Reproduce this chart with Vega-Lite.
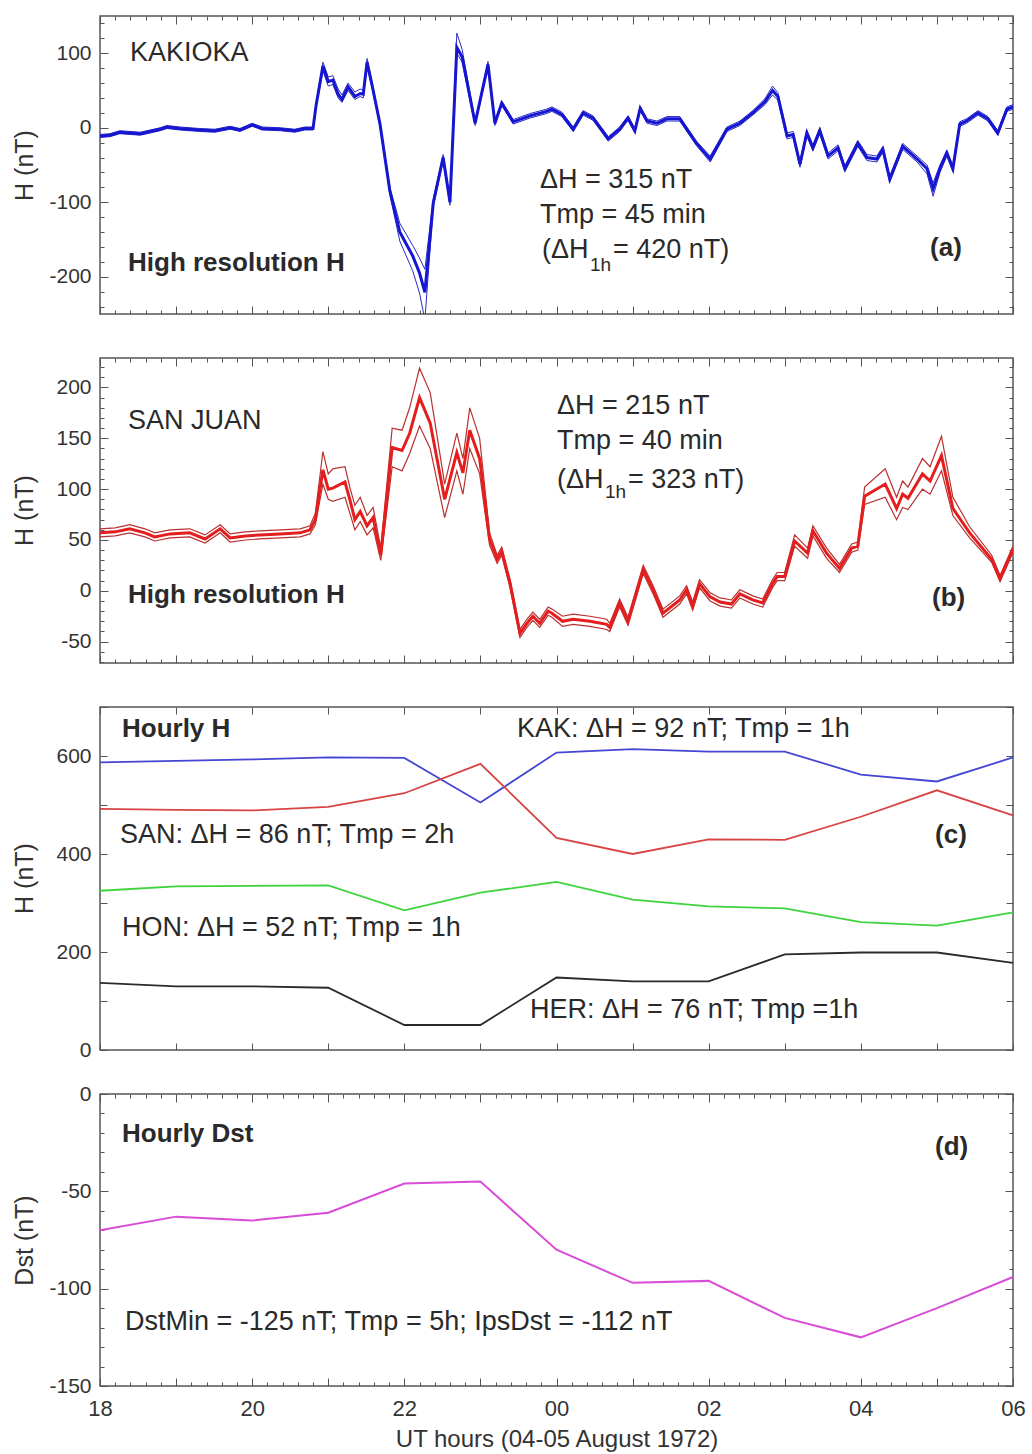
{
  "$schema": "https://vega.github.io/schema/vega-lite/v6.json",
  "padding": {"left": 11, "top": 11, "right": 12, "bottom": 0},
  "background": "white",
  "config": {
    "font": "Liberation Sans",
    "view": {"stroke": "#555", "strokeWidth": 1.5},
    "axis": {"domain": false, "grid": false, "labelColor": "#333", "labelFontSize": 21, "titleFontSize": 25, "titleFontWeight": "normal", "titleColor": "#333", "tickColor": "#555", "tickWidth": 1, "labelOverlap": false, "labelFlush": false, "labelBound": false},
    "text": {"font": "Liberation Sans", "color": "#2a2a2a"}
  },
  "datasets": {
    "kak": [
      {"t": 18.00, "v": -11, "lo": -13, "hi": -9},
      {"t": 18.13, "v": -10, "lo": -12, "hi": -8},
      {"t": 18.26, "v": -6, "lo": -8, "hi": -4},
      {"t": 18.53, "v": -8, "lo": -10, "hi": -6},
      {"t": 18.79, "v": -2, "lo": -4, "hi": 0},
      {"t": 18.88, "v": 1, "lo": -1, "hi": 3},
      {"t": 19.05, "v": -1, "lo": -3, "hi": 1},
      {"t": 19.31, "v": -3, "lo": -5, "hi": -1},
      {"t": 19.51, "v": -4, "lo": -6, "hi": -2},
      {"t": 19.71, "v": 0, "lo": -2, "hi": 2},
      {"t": 19.84, "v": -3, "lo": -5, "hi": -1},
      {"t": 20.00, "v": 4, "lo": 2, "hi": 6},
      {"t": 20.13, "v": -1, "lo": -3, "hi": 1},
      {"t": 20.37, "v": -2, "lo": -4, "hi": 0},
      {"t": 20.56, "v": -4, "lo": -6, "hi": -2},
      {"t": 20.69, "v": -1, "lo": -3, "hi": 1},
      {"t": 20.80, "v": -1, "lo": -3, "hi": 1},
      {"t": 20.84, "v": 30, "lo": 27, "hi": 33},
      {"t": 20.93, "v": 83, "lo": 76, "hi": 88},
      {"t": 21.00, "v": 62, "lo": 56, "hi": 68},
      {"t": 21.06, "v": 64, "lo": 58, "hi": 70},
      {"t": 21.13, "v": 45, "lo": 40, "hi": 52},
      {"t": 21.18, "v": 38, "lo": 34, "hi": 44},
      {"t": 21.26, "v": 55, "lo": 50, "hi": 60},
      {"t": 21.35, "v": 42, "lo": 38, "hi": 48},
      {"t": 21.42, "v": 46, "lo": 42, "hi": 52},
      {"t": 21.46, "v": 45, "lo": 40, "hi": 50},
      {"t": 21.51, "v": 88, "lo": 82, "hi": 93},
      {"t": 21.57, "v": 60, "lo": 56, "hi": 64},
      {"t": 21.68, "v": 5, "lo": 2, "hi": 8},
      {"t": 21.81, "v": -85, "lo": -90, "hi": -80},
      {"t": 21.94, "v": -140, "lo": -152, "hi": -128},
      {"t": 22.11, "v": -172, "lo": -192, "hi": -158},
      {"t": 22.20, "v": -195, "lo": -222, "hi": -175},
      {"t": 22.27, "v": -221, "lo": -258, "hi": -190},
      {"t": 22.38, "v": -101, "lo": -106, "hi": -96},
      {"t": 22.51, "v": -40, "lo": -44, "hi": -36},
      {"t": 22.60, "v": -100, "lo": -104, "hi": -96},
      {"t": 22.69, "v": 108, "lo": 100, "hi": 127},
      {"t": 22.76, "v": 95, "lo": 88, "hi": 105},
      {"t": 22.93, "v": 6, "lo": 3, "hi": 9},
      {"t": 23.10, "v": 85, "lo": 81, "hi": 89},
      {"t": 23.19, "v": 6, "lo": 3, "hi": 9},
      {"t": 23.28, "v": 33, "lo": 30, "hi": 36},
      {"t": 23.43, "v": 8, "lo": 5, "hi": 11},
      {"t": 23.65, "v": 16, "lo": 13, "hi": 19},
      {"t": 23.87, "v": 22, "lo": 19, "hi": 25},
      {"t": 23.94, "v": 25, "lo": 22, "hi": 28},
      {"t": 24.07, "v": 18, "lo": 15, "hi": 21},
      {"t": 24.22, "v": -2, "lo": -5, "hi": 1},
      {"t": 24.35, "v": 20, "lo": 17, "hi": 23},
      {"t": 24.48, "v": 13, "lo": 10, "hi": 16},
      {"t": 24.68, "v": -15, "lo": -18, "hi": -12},
      {"t": 24.83, "v": -2, "lo": -5, "hi": 1},
      {"t": 24.94, "v": 13, "lo": 10, "hi": 16},
      {"t": 25.03, "v": -4, "lo": -7, "hi": -1},
      {"t": 25.10, "v": 26, "lo": 23, "hi": 29},
      {"t": 25.19, "v": 9, "lo": 6, "hi": 12},
      {"t": 25.32, "v": 6, "lo": 3, "hi": 9},
      {"t": 25.45, "v": 12, "lo": 9, "hi": 15},
      {"t": 25.62, "v": 12, "lo": 9, "hi": 15},
      {"t": 25.84, "v": -21, "lo": -24, "hi": -18},
      {"t": 26.02, "v": -42, "lo": -46, "hi": -38},
      {"t": 26.24, "v": -2, "lo": -5, "hi": 1},
      {"t": 26.41, "v": 6, "lo": 3, "hi": 9},
      {"t": 26.58, "v": 20, "lo": 17, "hi": 23},
      {"t": 26.74, "v": 35, "lo": 31, "hi": 39},
      {"t": 26.84, "v": 50, "lo": 44, "hi": 56},
      {"t": 26.91, "v": 42, "lo": 37, "hi": 47},
      {"t": 27.03, "v": -11, "lo": -15, "hi": -7},
      {"t": 27.11, "v": -9, "lo": -13, "hi": -5},
      {"t": 27.20, "v": -49, "lo": -53, "hi": -45},
      {"t": 27.29, "v": -7, "lo": -11, "hi": -3},
      {"t": 27.37, "v": -27, "lo": -31, "hi": -23},
      {"t": 27.46, "v": -4, "lo": -8, "hi": 0},
      {"t": 27.57, "v": -38, "lo": -42, "hi": -34},
      {"t": 27.70, "v": -27, "lo": -31, "hi": -23},
      {"t": 27.79, "v": -55, "lo": -59, "hi": -51},
      {"t": 27.96, "v": -21, "lo": -25, "hi": -17},
      {"t": 28.08, "v": -40, "lo": -44, "hi": -36},
      {"t": 28.21, "v": -42, "lo": -46, "hi": -38},
      {"t": 28.29, "v": -29, "lo": -33, "hi": -25},
      {"t": 28.38, "v": -69, "lo": -73, "hi": -65},
      {"t": 28.55, "v": -25, "lo": -29, "hi": -21},
      {"t": 28.74, "v": -42, "lo": -46, "hi": -38},
      {"t": 28.87, "v": -55, "lo": -62, "hi": -50},
      {"t": 28.95, "v": -82, "lo": -92, "hi": -74},
      {"t": 29.04, "v": -55, "lo": -60, "hi": -50},
      {"t": 29.13, "v": -34, "lo": -38, "hi": -30},
      {"t": 29.21, "v": -55, "lo": -59, "hi": -51},
      {"t": 29.30, "v": 5, "lo": 2, "hi": 8},
      {"t": 29.39, "v": 9, "lo": 6, "hi": 12},
      {"t": 29.54, "v": 20, "lo": 17, "hi": 23},
      {"t": 29.67, "v": 12, "lo": 9, "hi": 15},
      {"t": 29.80, "v": -7, "lo": -10, "hi": -4},
      {"t": 29.92, "v": 25, "lo": 22, "hi": 28},
      {"t": 30.00, "v": 28, "lo": 25, "hi": 31}
    ],
    "san": [
      {"t": 18.00, "v": 57, "lo": 53, "hi": 61},
      {"t": 18.20, "v": 58, "lo": 54, "hi": 62},
      {"t": 18.39, "v": 61, "lo": 57, "hi": 65},
      {"t": 18.59, "v": 57, "lo": 53, "hi": 61},
      {"t": 18.72, "v": 53, "lo": 49, "hi": 57},
      {"t": 18.92, "v": 56, "lo": 52, "hi": 60},
      {"t": 19.18, "v": 57, "lo": 53, "hi": 61},
      {"t": 19.38, "v": 51, "lo": 47, "hi": 55},
      {"t": 19.58, "v": 61, "lo": 57, "hi": 65},
      {"t": 19.71, "v": 52, "lo": 48, "hi": 56},
      {"t": 19.91, "v": 54, "lo": 50, "hi": 58},
      {"t": 20.10, "v": 55, "lo": 51, "hi": 59},
      {"t": 20.37, "v": 56, "lo": 52, "hi": 60},
      {"t": 20.63, "v": 57, "lo": 53, "hi": 61},
      {"t": 20.76, "v": 60, "lo": 56, "hi": 64},
      {"t": 20.83, "v": 70, "lo": 65, "hi": 76},
      {"t": 20.93, "v": 119, "lo": 105, "hi": 137},
      {"t": 21.00, "v": 100, "lo": 90, "hi": 115},
      {"t": 21.06, "v": 101, "lo": 88, "hi": 120},
      {"t": 21.22, "v": 107, "lo": 92, "hi": 122},
      {"t": 21.29, "v": 88, "lo": 75, "hi": 100},
      {"t": 21.35, "v": 70, "lo": 60, "hi": 84},
      {"t": 21.42, "v": 78, "lo": 68, "hi": 92},
      {"t": 21.51, "v": 64, "lo": 55, "hi": 74},
      {"t": 21.59, "v": 72, "lo": 62, "hi": 82},
      {"t": 21.69, "v": 35, "lo": 30, "hi": 42},
      {"t": 21.84, "v": 141, "lo": 122, "hi": 160},
      {"t": 21.97, "v": 138, "lo": 118, "hi": 158},
      {"t": 22.07, "v": 155, "lo": 135, "hi": 180},
      {"t": 22.20, "v": 190, "lo": 162, "hi": 219},
      {"t": 22.34, "v": 165, "lo": 140, "hi": 195},
      {"t": 22.53, "v": 90, "lo": 72, "hi": 105},
      {"t": 22.69, "v": 136, "lo": 118, "hi": 155},
      {"t": 22.77, "v": 116, "lo": 95, "hi": 130},
      {"t": 22.86, "v": 158, "lo": 140, "hi": 180},
      {"t": 22.99, "v": 130, "lo": 115, "hi": 150},
      {"t": 23.12, "v": 51, "lo": 45, "hi": 57},
      {"t": 23.22, "v": 31, "lo": 27, "hi": 35},
      {"t": 23.28, "v": 39, "lo": 35, "hi": 43},
      {"t": 23.39, "v": 7, "lo": 3, "hi": 11},
      {"t": 23.52, "v": -42, "lo": -46, "hi": -38},
      {"t": 23.61, "v": -32, "lo": -36, "hi": -28},
      {"t": 23.69, "v": -25, "lo": -29, "hi": -21},
      {"t": 23.78, "v": -32, "lo": -36, "hi": -28},
      {"t": 23.89, "v": -20, "lo": -24, "hi": -16},
      {"t": 23.94, "v": -22, "lo": -26, "hi": -18},
      {"t": 24.08, "v": -30, "lo": -35, "hi": -25},
      {"t": 24.22, "v": -28, "lo": -33, "hi": -23},
      {"t": 24.44, "v": -30, "lo": -35, "hi": -25},
      {"t": 24.66, "v": -33, "lo": -38, "hi": -28},
      {"t": 24.70, "v": -36, "lo": -40, "hi": -32},
      {"t": 24.83, "v": -12, "lo": -16, "hi": -8},
      {"t": 24.94, "v": -30, "lo": -34, "hi": -26},
      {"t": 25.14, "v": 21, "lo": 17, "hi": 25},
      {"t": 25.27, "v": 1, "lo": -3, "hi": 5},
      {"t": 25.40, "v": -22, "lo": -26, "hi": -18},
      {"t": 25.62, "v": -9, "lo": -13, "hi": -5},
      {"t": 25.71, "v": 1, "lo": -3, "hi": 5},
      {"t": 25.79, "v": -15, "lo": -19, "hi": -11},
      {"t": 25.88, "v": 7, "lo": 3, "hi": 11},
      {"t": 26.02, "v": -6, "lo": -10, "hi": -2},
      {"t": 26.15, "v": -11, "lo": -15, "hi": -7},
      {"t": 26.30, "v": -13, "lo": -17, "hi": -9},
      {"t": 26.41, "v": -3, "lo": -7, "hi": 1},
      {"t": 26.58, "v": -9, "lo": -13, "hi": -5},
      {"t": 26.71, "v": -12, "lo": -16, "hi": -8},
      {"t": 26.84, "v": 7, "lo": 3, "hi": 11},
      {"t": 26.90, "v": 14, "lo": 10, "hi": 18},
      {"t": 27.00, "v": 14, "lo": 10, "hi": 18},
      {"t": 27.13, "v": 49, "lo": 44, "hi": 55},
      {"t": 27.30, "v": 37, "lo": 32, "hi": 42},
      {"t": 27.37, "v": 59, "lo": 54, "hi": 64},
      {"t": 27.55, "v": 37, "lo": 32, "hi": 42},
      {"t": 27.72, "v": 22, "lo": 18, "hi": 26},
      {"t": 27.88, "v": 42, "lo": 38, "hi": 46},
      {"t": 27.96, "v": 44, "lo": 40, "hi": 48},
      {"t": 28.05, "v": 93, "lo": 85, "hi": 102},
      {"t": 28.32, "v": 105, "lo": 92, "hi": 120},
      {"t": 28.47, "v": 81, "lo": 70, "hi": 92},
      {"t": 28.55, "v": 95, "lo": 82, "hi": 108},
      {"t": 28.62, "v": 91, "lo": 80, "hi": 102},
      {"t": 28.81, "v": 115, "lo": 100, "hi": 130},
      {"t": 28.91, "v": 108, "lo": 95, "hi": 122},
      {"t": 29.06, "v": 133, "lo": 118, "hi": 152},
      {"t": 29.21, "v": 81, "lo": 74, "hi": 92},
      {"t": 29.43, "v": 57, "lo": 52, "hi": 63},
      {"t": 29.72, "v": 31, "lo": 28, "hi": 35},
      {"t": 29.83, "v": 12, "lo": 9, "hi": 15},
      {"t": 30.00, "v": 41, "lo": 38, "hi": 44}
    ],
    "hourly": [
      {"t": 18, "s": "KAK", "v": 587}, {"t": 19, "s": "KAK", "v": 590}, {"t": 20, "s": "KAK", "v": 593}, {"t": 21, "s": "KAK", "v": 597}, {"t": 22, "s": "KAK", "v": 596}, {"t": 23, "s": "KAK", "v": 505}, {"t": 24, "s": "KAK", "v": 607}, {"t": 25, "s": "KAK", "v": 614}, {"t": 26, "s": "KAK", "v": 609}, {"t": 27, "s": "KAK", "v": 609}, {"t": 28, "s": "KAK", "v": 562}, {"t": 29, "s": "KAK", "v": 548}, {"t": 30, "s": "KAK", "v": 597},
      {"t": 18, "s": "SAN", "v": 492}, {"t": 19, "s": "SAN", "v": 490}, {"t": 20, "s": "SAN", "v": 489}, {"t": 21, "s": "SAN", "v": 496}, {"t": 22, "s": "SAN", "v": 524}, {"t": 23, "s": "SAN", "v": 584}, {"t": 24, "s": "SAN", "v": 433}, {"t": 25, "s": "SAN", "v": 400}, {"t": 26, "s": "SAN", "v": 430}, {"t": 27, "s": "SAN", "v": 429}, {"t": 28, "s": "SAN", "v": 476}, {"t": 29, "s": "SAN", "v": 530}, {"t": 30, "s": "SAN", "v": 479},
      {"t": 18, "s": "HON", "v": 325}, {"t": 19, "s": "HON", "v": 334}, {"t": 20, "s": "HON", "v": 335}, {"t": 21, "s": "HON", "v": 336}, {"t": 22, "s": "HON", "v": 285}, {"t": 23, "s": "HON", "v": 321}, {"t": 24, "s": "HON", "v": 343}, {"t": 25, "s": "HON", "v": 307}, {"t": 26, "s": "HON", "v": 293}, {"t": 27, "s": "HON", "v": 289}, {"t": 28, "s": "HON", "v": 261}, {"t": 29, "s": "HON", "v": 254}, {"t": 30, "s": "HON", "v": 281},
      {"t": 18, "s": "HER", "v": 137}, {"t": 19, "s": "HER", "v": 130}, {"t": 20, "s": "HER", "v": 130}, {"t": 21, "s": "HER", "v": 127}, {"t": 22, "s": "HER", "v": 51}, {"t": 23, "s": "HER", "v": 51}, {"t": 24, "s": "HER", "v": 148}, {"t": 25, "s": "HER", "v": 140}, {"t": 26, "s": "HER", "v": 140}, {"t": 27, "s": "HER", "v": 195}, {"t": 28, "s": "HER", "v": 199}, {"t": 29, "s": "HER", "v": 199}, {"t": 30, "s": "HER", "v": 178}
    ],
    "dst": [
      {"t": 18, "v": -70}, {"t": 19, "v": -63}, {"t": 20, "v": -65}, {"t": 21, "v": -61}, {"t": 22, "v": -46}, {"t": 23, "v": -45}, {"t": 24, "v": -80}, {"t": 25, "v": -97}, {"t": 26, "v": -96}, {"t": 27, "v": -115}, {"t": 28, "v": -125}, {"t": 29, "v": -110}, {"t": 30, "v": -94}
    ]
  },
  "vconcat": [
    {
      "width": 913,
      "height": 298,
      "layer": [
        {
          "data": {"name": "kak"},
          "mark": {"type": "line", "color": "#2a2ac8", "strokeWidth": 1, "clip": true},
          "encoding": {
            "x": {"field": "t", "type": "quantitative", "scale": {"domain": [18, 30], "nice": false, "zero": false},
              "axis": {"orient": "bottom", "values": [18,18.2,18.4,18.6,18.8,19,19.2,19.4,19.6,19.8,20,20.2,20.4,20.6,20.8,21,21.2,21.4,21.6,21.8,22,22.2,22.4,22.6,22.8,23,23.2,23.4,23.6,23.8,24,24.2,24.4,24.6,24.8,25,25.2,25.4,25.6,25.8,26,26.2,26.4,26.6,26.8,27,27.2,27.4,27.6,27.8,28,28.2,28.4,28.6,28.8,29,29.2,29.4,29.6,29.8,30], "labels": false, "title": null, "tickSize": {"condition": {"test": "datum.value % 1 === 0", "value": -8}, "value": -4}}},
            "y": {"field": "lo", "type": "quantitative", "scale": {"domain": [-250, 150], "nice": false, "zero": false},
              "axis": {"orient": "left", "values": [-240,-220,-200,-180,-160,-140,-120,-100,-80,-60,-40,-20,0,20,40,60,80,100,120,140], "title": "H (nT)", "titleX": -63, "titleY": 149, "labelPadding": 17, "labelExpr": "datum.value % 100 === 0 ? '' + datum.value : ''", "tickSize": {"condition": {"test": "datum.value % 100 === 0", "value": -8}, "value": -4}}}
          }
        },
        {
          "data": {"name": "kak"},
          "mark": {"type": "line", "color": "#2a2ac8", "strokeWidth": 1, "clip": true},
          "encoding": {
            "x": {"field": "t", "type": "quantitative",
              "axis": {"orient": "top", "values": [18,18.2,18.4,18.6,18.8,19,19.2,19.4,19.6,19.8,20,20.2,20.4,20.6,20.8,21,21.2,21.4,21.6,21.8,22,22.2,22.4,22.6,22.8,23,23.2,23.4,23.6,23.8,24,24.2,24.4,24.6,24.8,25,25.2,25.4,25.6,25.8,26,26.2,26.4,26.6,26.8,27,27.2,27.4,27.6,27.8,28,28.2,28.4,28.6,28.8,29,29.2,29.4,29.6,29.8,30], "labels": false, "title": null, "tickSize": {"condition": {"test": "datum.value % 1 === 0", "value": -8}, "value": -4}}},
            "y": {"field": "hi", "type": "quantitative",
              "axis": {"orient": "right", "values": [-240,-220,-200,-180,-160,-140,-120,-100,-80,-60,-40,-20,0,20,40,60,80,100,120,140], "labels": false, "title": null, "tickSize": {"condition": {"test": "datum.value % 100 === 0", "value": -8}, "value": -4}}}
          }
        },
        {
          "data": {"name": "kak"},
          "mark": {"type": "line", "color": "#1616d0", "strokeWidth": 3, "clip": true},
          "encoding": {
            "x": {"field": "t", "type": "quantitative", "axis": null},
            "y": {"field": "v", "type": "quantitative", "axis": null}
          }
        },
        {"data": {"values": [{}]}, "mark": {"type": "text", "text": "KAKIOKA", "align": "left", "baseline": "alphabetic", "fontSize": 27},
         "encoding": {"x": {"datum": 18.394, "type": "quantitative", "axis": null}, "y": {"datum": 89.3, "type": "quantitative", "axis": null}}},
        {"data": {"values": [{}]}, "mark": {"type": "text", "text": "High resolution H", "align": "left", "baseline": "alphabetic", "fontSize": 26, "fontWeight": "bold"},
         "encoding": {"x": {"datum": 18.368, "type": "quantitative", "axis": null}, "y": {"datum": -191.9, "type": "quantitative", "axis": null}}},
        {"data": {"values": [{}]}, "mark": {"type": "text", "text": "ΔH = 315 nT", "align": "left", "baseline": "alphabetic", "fontSize": 27},
         "encoding": {"x": {"datum": 23.783, "type": "quantitative", "axis": null}, "y": {"datum": -80.8, "type": "quantitative", "axis": null}}},
        {"data": {"values": [{}]}, "mark": {"type": "text", "text": "Tmp = 45 min", "align": "left", "baseline": "alphabetic", "fontSize": 27},
         "encoding": {"x": {"datum": 23.783, "type": "quantitative", "axis": null}, "y": {"datum": -127.9, "type": "quantitative", "axis": null}}},
        {"data": {"values": [{}]}, "mark": {"type": "text", "text": "(ΔH", "align": "left", "baseline": "alphabetic", "fontSize": 27},
         "encoding": {"x": {"datum": 23.81, "type": "quantitative", "axis": null}, "y": {"datum": -174.5, "type": "quantitative", "axis": null}}},
        {"data": {"values": [{}]}, "mark": {"type": "text", "text": "1h", "align": "left", "baseline": "alphabetic", "fontSize": 19},
         "encoding": {"x": {"datum": 24.441, "type": "quantitative", "axis": null}, "y": {"datum": -191.9, "type": "quantitative", "axis": null}}},
        {"data": {"values": [{}]}, "mark": {"type": "text", "text": "= 420 nT)", "align": "left", "baseline": "alphabetic", "fontSize": 27},
         "encoding": {"x": {"datum": 24.743, "type": "quantitative", "axis": null}, "y": {"datum": -174.5, "type": "quantitative", "axis": null}}},
        {"data": {"values": [{}]}, "mark": {"type": "text", "text": "(a)", "align": "left", "baseline": "alphabetic", "fontSize": 26, "fontWeight": "bold"},
         "encoding": {"x": {"datum": 28.91, "type": "quantitative", "axis": null}, "y": {"datum": -171.8, "type": "quantitative", "axis": null}}}
      ],
      "resolve": {"axis": {"x": "independent", "y": "independent"}}
    },
    {
      "width": 913,
      "height": 305,
      "layer": [
        {
          "data": {"name": "san"},
          "mark": {"type": "line", "color": "#b83030", "strokeWidth": 1.2, "clip": true},
          "encoding": {
            "x": {"field": "t", "type": "quantitative", "scale": {"domain": [18, 30], "nice": false, "zero": false},
              "axis": {"orient": "bottom", "values": [18,18.2,18.4,18.6,18.8,19,19.2,19.4,19.6,19.8,20,20.2,20.4,20.6,20.8,21,21.2,21.4,21.6,21.8,22,22.2,22.4,22.6,22.8,23,23.2,23.4,23.6,23.8,24,24.2,24.4,24.6,24.8,25,25.2,25.4,25.6,25.8,26,26.2,26.4,26.6,26.8,27,27.2,27.4,27.6,27.8,28,28.2,28.4,28.6,28.8,29,29.2,29.4,29.6,29.8,30], "labels": false, "title": null, "tickSize": {"condition": {"test": "datum.value % 1 === 0", "value": -8}, "value": -4}}},
            "y": {"field": "lo", "type": "quantitative", "scale": {"domain": [-71, 229], "nice": false, "zero": false},
              "axis": {"orient": "left", "values": [-70,-60,-50,-40,-30,-20,-10,0,10,20,30,40,50,60,70,80,90,100,110,120,130,140,150,160,170,180,190,200,210,220], "title": "H (nT)", "titleX": -63, "titleY": 152, "labelPadding": 17, "labelExpr": "datum.value % 50 === 0 ? '' + datum.value : ''", "tickSize": {"condition": {"test": "datum.value % 50 === 0", "value": -8}, "value": -4}}}
          }
        },
        {
          "data": {"name": "san"},
          "mark": {"type": "line", "color": "#b83030", "strokeWidth": 1.2, "clip": true},
          "encoding": {
            "x": {"field": "t", "type": "quantitative",
              "axis": {"orient": "top", "values": [18,18.2,18.4,18.6,18.8,19,19.2,19.4,19.6,19.8,20,20.2,20.4,20.6,20.8,21,21.2,21.4,21.6,21.8,22,22.2,22.4,22.6,22.8,23,23.2,23.4,23.6,23.8,24,24.2,24.4,24.6,24.8,25,25.2,25.4,25.6,25.8,26,26.2,26.4,26.6,26.8,27,27.2,27.4,27.6,27.8,28,28.2,28.4,28.6,28.8,29,29.2,29.4,29.6,29.8,30], "labels": false, "title": null, "tickSize": {"condition": {"test": "datum.value % 1 === 0", "value": -8}, "value": -4}}},
            "y": {"field": "hi", "type": "quantitative",
              "axis": {"orient": "right", "values": [-70,-60,-50,-40,-30,-20,-10,0,10,20,30,40,50,60,70,80,90,100,110,120,130,140,150,160,170,180,190,200,210,220], "labels": false, "title": null, "tickSize": {"condition": {"test": "datum.value % 50 === 0", "value": -8}, "value": -4}}}
          }
        },
        {
          "data": {"name": "san"},
          "mark": {"type": "line", "color": "#e41e1e", "strokeWidth": 3, "clip": true},
          "encoding": {
            "x": {"field": "t", "type": "quantitative", "axis": null},
            "y": {"field": "v", "type": "quantitative", "axis": null}
          }
        },
        {"data": {"values": [{}]}, "mark": {"type": "text", "text": "SAN JUAN", "align": "left", "baseline": "alphabetic", "fontSize": 27},
         "encoding": {"x": {"datum": 18.368, "type": "quantitative", "axis": null}, "y": {"datum": 159.2, "type": "quantitative", "axis": null}}},
        {"data": {"values": [{}]}, "mark": {"type": "text", "text": "High resolution H", "align": "left", "baseline": "alphabetic", "fontSize": 26, "fontWeight": "bold"},
         "encoding": {"x": {"datum": 18.368, "type": "quantitative", "axis": null}, "y": {"datum": -12.2, "type": "quantitative", "axis": null}}},
        {"data": {"values": [{}]}, "mark": {"type": "text", "text": "ΔH = 215 nT", "align": "left", "baseline": "alphabetic", "fontSize": 27},
         "encoding": {"x": {"datum": 24.007, "type": "quantitative", "axis": null}, "y": {"datum": 174, "type": "quantitative", "axis": null}}},
        {"data": {"values": [{}]}, "mark": {"type": "text", "text": "Tmp = 40 min", "align": "left", "baseline": "alphabetic", "fontSize": 27},
         "encoding": {"x": {"datum": 24.007, "type": "quantitative", "axis": null}, "y": {"datum": 139.4, "type": "quantitative", "axis": null}}},
        {"data": {"values": [{}]}, "mark": {"type": "text", "text": "(ΔH", "align": "left", "baseline": "alphabetic", "fontSize": 27},
         "encoding": {"x": {"datum": 24.007, "type": "quantitative", "axis": null}, "y": {"datum": 101.5, "type": "quantitative", "axis": null}}},
        {"data": {"values": [{}]}, "mark": {"type": "text", "text": "1h", "align": "left", "baseline": "alphabetic", "fontSize": 19},
         "encoding": {"x": {"datum": 24.638, "type": "quantitative", "axis": null}, "y": {"datum": 91.6, "type": "quantitative", "axis": null}}},
        {"data": {"values": [{}]}, "mark": {"type": "text", "text": "= 323 nT)", "align": "left", "baseline": "alphabetic", "fontSize": 27},
         "encoding": {"x": {"datum": 24.94, "type": "quantitative", "axis": null}, "y": {"datum": 101.5, "type": "quantitative", "axis": null}}},
        {"data": {"values": [{}]}, "mark": {"type": "text", "text": "(b)", "align": "left", "baseline": "alphabetic", "fontSize": 26, "fontWeight": "bold"},
         "encoding": {"x": {"datum": 28.936, "type": "quantitative", "axis": null}, "y": {"datum": -15.4, "type": "quantitative", "axis": null}}}
      ],
      "resolve": {"axis": {"x": "independent", "y": "independent"}}
    },
    {
      "width": 913,
      "height": 343,
      "layer": [
        {
          "data": {"name": "hourly"},
          "mark": {"type": "line", "strokeWidth": 1.8},
          "encoding": {
            "x": {"field": "t", "type": "quantitative", "scale": {"domain": [18, 30], "nice": false, "zero": false},
              "axis": {"orient": "bottom", "values": [18,19,20,21,22,23,24,25,26,27,28,29,30], "labels": false, "title": null, "tickSize": -7}},
            "y": {"field": "v", "type": "quantitative", "scale": {"domain": [0, 700], "nice": false, "zero": false},
              "axis": {"orient": "left", "values": [0,100,200,300,400,500,600,700], "title": "H (nT)", "titleX": -63, "titleY": 171, "labelPadding": 16, "labelExpr": "datum.value % 200 === 0 ? '' + datum.value : ''", "tickSize": -7}},
            "color": {"field": "s", "type": "nominal", "scale": {"domain": ["KAK", "SAN", "HON", "HER"], "range": ["#4646d4", "#d84444", "#3ed43e", "#2a2a2a"]}, "legend": null}
          }
        },
        {
          "data": {"name": "hourly"},
          "mark": {"type": "line", "opacity": 0},
          "encoding": {
            "x": {"field": "t", "type": "quantitative",
              "axis": {"orient": "top", "values": [18,19,20,21,22,23,24,25,26,27,28,29,30], "labels": false, "title": null, "tickSize": -7}},
            "y": {"field": "v", "type": "quantitative",
              "axis": {"orient": "right", "values": [0,100,200,300,400,500,600,700], "labels": false, "title": null, "tickSize": -7}},
            "detail": {"field": "s", "type": "nominal"}
          }
        },
        {"data": {"values": [{}]}, "mark": {"type": "text", "text": "Hourly H", "align": "left", "baseline": "alphabetic", "fontSize": 26, "fontWeight": "bold"},
         "encoding": {"x": {"datum": 18.289, "type": "quantitative", "axis": null}, "y": {"datum": 638, "type": "quantitative", "axis": null}}},
        {"data": {"values": [{}]}, "mark": {"type": "text", "text": "KAK: ΔH = 92 nT; Tmp = 1h", "align": "left", "baseline": "alphabetic", "fontSize": 27},
         "encoding": {"x": {"datum": 23.481, "type": "quantitative", "axis": null}, "y": {"datum": 638, "type": "quantitative", "axis": null}}},
        {"data": {"values": [{}]}, "mark": {"type": "text", "text": "SAN: ΔH = 86 nT; Tmp = 2h", "align": "left", "baseline": "alphabetic", "fontSize": 27},
         "encoding": {"x": {"datum": 18.263, "type": "quantitative", "axis": null}, "y": {"datum": 423, "type": "quantitative", "axis": null}}},
        {"data": {"values": [{}]}, "mark": {"type": "text", "text": "(c)", "align": "left", "baseline": "alphabetic", "fontSize": 26, "fontWeight": "bold"},
         "encoding": {"x": {"datum": 28.975, "type": "quantitative", "axis": null}, "y": {"datum": 423, "type": "quantitative", "axis": null}}},
        {"data": {"values": [{}]}, "mark": {"type": "text", "text": "HON: ΔH = 52 nT; Tmp = 1h", "align": "left", "baseline": "alphabetic", "fontSize": 27},
         "encoding": {"x": {"datum": 18.289, "type": "quantitative", "axis": null}, "y": {"datum": 232, "type": "quantitative", "axis": null}}},
        {"data": {"values": [{}]}, "mark": {"type": "text", "text": "HER: ΔH = 76 nT; Tmp =1h", "align": "left", "baseline": "alphabetic", "fontSize": 27},
         "encoding": {"x": {"datum": 23.652, "type": "quantitative", "axis": null}, "y": {"datum": 65, "type": "quantitative", "axis": null}}}
      ],
      "resolve": {"axis": {"x": "independent", "y": "independent"}}
    },
    {
      "width": 913,
      "height": 292,
      "layer": [
        {
          "data": {"name": "dst"},
          "mark": {"type": "line", "color": "#d84cd8", "strokeWidth": 2},
          "encoding": {
            "x": {"field": "t", "type": "quantitative", "scale": {"domain": [18, 30], "nice": false, "zero": false},
              "axis": {"orient": "bottom", "values": [18,18.2,18.4,18.6,18.8,19,19.2,19.4,19.6,19.8,20,20.2,20.4,20.6,20.8,21,21.2,21.4,21.6,21.8,22,22.2,22.4,22.6,22.8,23,23.2,23.4,23.6,23.8,24,24.2,24.4,24.6,24.8,25,25.2,25.4,25.6,25.8,26,26.2,26.4,26.6,26.8,27,27.2,27.4,27.6,27.8,28,28.2,28.4,28.6,28.8,29,29.2,29.4,29.6,29.8,30], "title": "UT hours (04-05 August 1972)", "titleFontSize": 24, "titlePadding": 4, "labelPadding": 20, "labelFontSize": 22, "labelExpr": "datum.value % 2 === 0 ? (datum.value >= 24 ? '0' + (datum.value - 24) : '' + datum.value) : ''", "tickSize": {"condition": {"test": "datum.value % 1 === 0", "value": -8}, "value": -4}}},
            "y": {"field": "v", "type": "quantitative", "scale": {"domain": [-150, 0], "nice": false, "zero": false},
              "axis": {"orient": "left", "values": [-150,-140,-130,-120,-110,-100,-90,-80,-70,-60,-50,-40,-30,-20,-10,0], "title": "Dst (nT)", "titleX": -63, "titleY": 146, "labelPadding": 17, "labelExpr": "datum.value % 50 === 0 ? '' + datum.value : ''", "tickSize": {"condition": {"test": "datum.value % 50 === 0", "value": -8}, "value": -4}}}
          }
        },
        {
          "data": {"name": "dst"},
          "mark": {"type": "line", "opacity": 0},
          "encoding": {
            "x": {"field": "t", "type": "quantitative",
              "axis": {"orient": "top", "values": [18,18.2,18.4,18.6,18.8,19,19.2,19.4,19.6,19.8,20,20.2,20.4,20.6,20.8,21,21.2,21.4,21.6,21.8,22,22.2,22.4,22.6,22.8,23,23.2,23.4,23.6,23.8,24,24.2,24.4,24.6,24.8,25,25.2,25.4,25.6,25.8,26,26.2,26.4,26.6,26.8,27,27.2,27.4,27.6,27.8,28,28.2,28.4,28.6,28.8,29,29.2,29.4,29.6,29.8,30], "labels": false, "title": null, "tickSize": {"condition": {"test": "datum.value % 1 === 0", "value": -8}, "value": -4}}},
            "y": {"field": "v", "type": "quantitative",
              "axis": {"orient": "right", "values": [-150,-140,-130,-120,-110,-100,-90,-80,-70,-60,-50,-40,-30,-20,-10,0], "labels": false, "title": null, "tickSize": {"condition": {"test": "datum.value % 50 === 0", "value": -8}, "value": -4}}}
          }
        },
        {"data": {"values": [{}]}, "mark": {"type": "text", "text": "Hourly Dst", "align": "left", "baseline": "alphabetic", "fontSize": 26, "fontWeight": "bold"},
         "encoding": {"x": {"datum": 18.289, "type": "quantitative", "axis": null}, "y": {"datum": -24.6, "type": "quantitative", "axis": null}}},
        {"data": {"values": [{}]}, "mark": {"type": "text", "text": "(d)", "align": "left", "baseline": "alphabetic", "fontSize": 26, "fontWeight": "bold"},
         "encoding": {"x": {"datum": 28.975, "type": "quantitative", "axis": null}, "y": {"datum": -31.4, "type": "quantitative", "axis": null}}},
        {"data": {"values": [{}]}, "mark": {"type": "text", "text": "DstMin = -125 nT; Tmp = 5h; IpsDst = -112 nT", "align": "left", "baseline": "alphabetic", "fontSize": 27},
         "encoding": {"x": {"datum": 18.329, "type": "quantitative", "axis": null}, "y": {"datum": -121.2, "type": "quantitative", "axis": null}}}
      ],
      "resolve": {"axis": {"x": "independent", "y": "independent"}}
    }
  ],
  "spacing": 44,
  "bounds": "flush"
}
